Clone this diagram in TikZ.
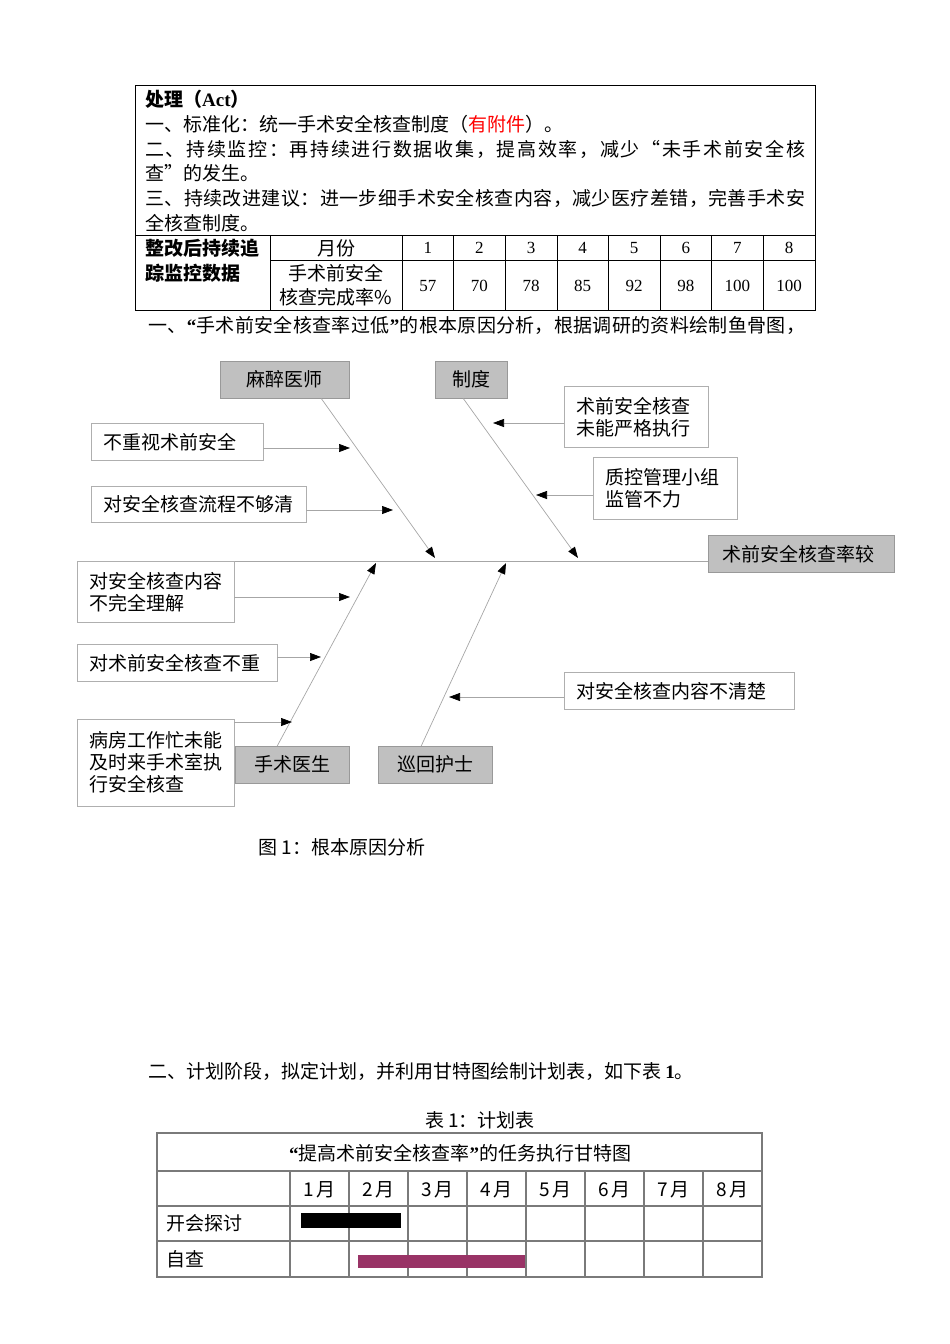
\documentclass[tikz,border=0pt]{standalone}
\usepackage{fontspec}
\setmainfont{Liberation Serif}
\newfontfamily\cjk{Noto Sans CJK SC}
\usetikzlibrary{arrows.meta}
\definecolor{boxgray}{HTML}{C0C0C0}
\definecolor{edgegray}{HTML}{A6A6A6}
\definecolor{ganttred}{HTML}{993366}
\definecolor{gridgray}{HTML}{7A7A7A}

\newcommand\jline[2]{\hbox to #1{\jfirst#2\relax}}
\def\jfirst#1{#1\jrest}
\def\jrest#1{\ifx\relax#1\else\hfil#1\expandafter\jrest\fi}
\newcommand\openq{{\rmfamily\bfseries “}}
\newcommand\closeq{{\rmfamily\bfseries ”}}

\tikzset{
  txt/.style={anchor=base west,inner sep=0pt},
  num/.style={font=\rmfamily\fontsize{17}{20}\selectfont},
  cat/.style={draw=gray!80,fill=boxgray,anchor=north west,minimum height=37,inner sep=0pt,
    font=\cjk\fontsize{19}{22}\selectfont},
  cause/.style={draw=edgegray!90,fill=white,anchor=north west,align=left,inner xsep=12,inner ysep=0,
    font=\cjk\fontsize{19}{22}\selectfont},
  bone/.style={draw=edgegray,line width=.7},
  causearrow/.style={bone,-{Triangle[length=11,width=8,color=black]}}
}

\begin{document}
\begin{tikzpicture}[x=1pt,y=-1pt,font=\cjk\fontsize{19}{25}\selectfont]
  \useasboundingbox (0,0) rectangle (950,1344);

  \draw[line width=1] (135,85) rectangle (815,310);
  \draw (135,235) -- (815,235);
  \draw (270,235) -- (270,310);
  \draw (270,260) -- (815,260);
  \foreach \x in {402,453.6,505.2,556.8,608.4,660,711.6,763.2} \draw (\x,235) -- (\x,310);

  \node[txt,font=\cjk\bfseries\fontsize{19}{25}\selectfont] (act) at (145,106) {处理（{\rmfamily\bfseries Act}）};
  \node[txt] (act1) at (145,131) {一、标准化：统一手术安全核查制度（\textcolor{red}{有附件}）。};
  \node[txt] (act2) at (145,156) {\jline{660pt}{二、持续监控：再持续进行数据收集，提高效率，减少“未手术前安全核}};
  \node[txt] (act3) at (145,180) {查”的发生。};
  \node[txt] (act4) at (145,205) {\jline{660pt}{三、持续改进建议：进一步细手术安全核查内容，减少医疗差错，完善手术安}};
  \node[txt] (act5) at (145,230) {全核查制度。};

  \node[txt,font=\cjk\bfseries\fontsize{19}{25}\selectfont] (trk1) at (145,255) {整改后持续追};
  \node[txt,font=\cjk\bfseries\fontsize{19}{25}\selectfont] (trk2) at (145,280) {踪监控数据};
  \node (month) at (336,248) {月份};
  \node[align=center,font=\cjk\fontsize{19}{24}\selectfont] (rate) at (336,285) {手术前安全\\核查完成率\%};
  \foreach \v [count=\i] in {57,70,78,85,92,98,100,100} {
    \node[num] (m\i) at ({402+51.6*(\i-1)+25.8},248) {\i};
    \node[num] (v\i) at ({402+51.6*(\i-1)+25.8},286) {\v};
  }

  \node[txt] (intro) at (148,332) {\jline{657pt}{一、\openq 手术前安全核查率过低\closeq 的根本原因分析，根据调研的资料绘制鱼骨图，}};

  \node[cat,minimum width=129] (anes) at (220,361) {麻醉医师};
  \node[cat,minimum width=72] (rule) at (435,361) {制度};
  \node[cat,minimum width=114] (surg) at (235,746) {手术医生};
  \node[cat,minimum width=114] (nurse) at (378,746) {巡回护士};
  \node[cat,align=left,inner xsep=14,text width=158] (head) at (708,535) {术前安全核查率较};

  \node[cause,text width=148,minimum height=37] (c1) at (91,423) {不重视术前安全};
  \node[cause,text width=191,minimum height=36] (c2) at (91,486) {对安全核查流程不够清};
  \node[cause,text width=133,minimum height=61] (c3) at (77,561) {对安全核查内容\\不完全理解};
  \node[cause,text width=176,minimum height=37] (c4) at (77,644) {对术前安全核查不重};
  \node[cause,text width=133,minimum height=87] (c5) at (77,719) {病房工作忙未能\\及时来手术室执\\行安全核查};
  \node[cause,text width=120,minimum height=61] (c6) at (564,386) {术前安全核查\\未能严格执行};
  \node[cause,text width=120,minimum height=62] (c7) at (593,457) {质控管理小组\\监管不力};
  \node[cause,text width=206,minimum height=37] (c8) at (564,672) {对安全核查内容不清楚};

  \coordinate (tail) at (235,561);
  \coordinate (b1) at (435,558);
  \coordinate (b2) at (578,558);
  \coordinate (b3) at (376,563);
  \coordinate (b4) at (506,563);
  \draw[bone] (tail) -- (tail -| head.west);
  \draw[causearrow] ([xshift=36.5]anes.south) -- (b1);
  \draw[causearrow] ([xshift=-8]rule.south) -- (b2);
  \draw[causearrow] ([xshift=-15]surg.north) -- (b3);
  \draw[causearrow] ([xshift=-14]nurse.north) -- (b4);

  \coordinate (t1) at (350,448);
  \coordinate (t2) at (393,510);
  \coordinate (t3) at (350,597);
  \coordinate (t4) at (321,657);
  \coordinate (t5) at (292,722);
  \coordinate (t6) at (493,423);
  \coordinate (t7) at (536,495);
  \coordinate (t8) at (449,697);
  \draw[causearrow] (c1.east |- t1) -- (t1);
  \draw[causearrow] (c2.east |- t2) -- (t2);
  \draw[causearrow] (c3.east |- t3) -- (t3);
  \draw[causearrow] (c4.east |- t4) -- (t4);
  \draw[causearrow] (c5.east |- t5) -- (t5);
  \draw[causearrow] (c6.west |- t6) -- (t6);
  \draw[causearrow] (c7.west |- t7) -- (t7);
  \draw[causearrow] (c8.west |- t8) -- (t8);

  \node[anchor=west] (fig) at (255,847) {图 1：根本原因分析};

  \node[txt] (plan) at (148,1078) {二、计划阶段，拟定计划，并利用甘特图绘制计划表，如下表 {\rmfamily\bfseries 1}。};
  \node (tab) at (480,1120) {表 1：计划表};

  \draw[gridgray,line width=1.2] (157,1133) rectangle (762,1277);
  \foreach \y in {1171,1206,1241} \draw[gridgray,line width=1.2] (157,\y) -- (762,\y);
  \foreach \x in {290,349,408,467,526,585,644,703} \draw[gridgray,line width=1.2] (\x,1171) -- (\x,1277);
  \node (gtitle) at (460,1153) {\openq 提高术前安全核查率\closeq 的任务执行甘特图};
  \foreach \i in {1,...,8} \node (g\i) at ({290+59*(\i-1)+29.5},1190) {\i\,月};
  \node[anchor=west] (task1) at (163,1223) {开会探讨};
  \node[anchor=west] (task2) at (163,1259) {自查};
  \fill[black] (301,1213) rectangle (401,1228);
  \fill[ganttred] (358,1255) rectangle (525,1268);
\end{tikzpicture}
\end{document}
